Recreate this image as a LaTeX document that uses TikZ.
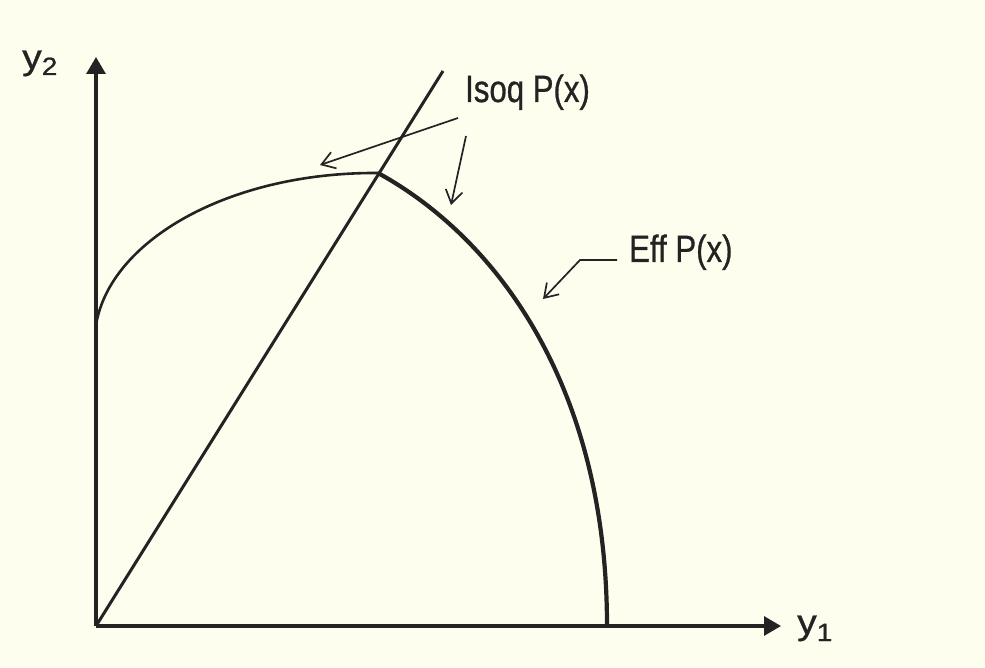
\documentclass[tikz,border=0pt]{standalone}
\usepackage{fontspec}
\setmainfont{Liberation Sans}
\newfontfamily\labfont[FakeStretch=0.82,FakeBold=0.8]{Liberation Sans}
\newfontfamily\axfont[FakeStretch=1.12,FakeBold=0.8]{Liberation Sans}
\usetikzlibrary{arrows.meta}
\definecolor{paper}{RGB}{254,254,239}
\definecolor{ink}{RGB}{35,35,35}
\begin{document}
\begin{tikzpicture}[x=1pt,y=-1pt,
  axisline/.style={line width=3.2pt,draw=ink,-{Triangle[length=17pt,width=19pt]}},
  rayline/.style={line width=3pt,draw=ink},
  isoline/.style={line width=2.6pt,draw=ink},
  effline/.style={line width=4.2pt,draw=ink},
  pointer/.style={line width=1.7pt,draw=ink,-{Straight Barb[length=13pt,width=17pt]}},
  lab/.style={inner sep=0pt,anchor=base west,text=ink,font=\labfont\fontsize{38}{40}\selectfont},
  axlab/.style={inner sep=0pt,anchor=base west,text=ink,font=\axfont\fontsize{35}{36}\selectfont}
]
\fill[paper] (0,0) rectangle (985,668);
\useasboundingbox (0,0) rectangle (985,668);

% coordinates
\coordinate (O) at (96,626);
\coordinate (Ytop) at (96,57);
\coordinate (Xend) at (781,626);
\coordinate (R) at (443,71);
\coordinate (A) at (96,325);
\coordinate (T) at (378,173);
\coordinate (B) at (607,626);

% axes
\draw[axisline] (O) -- (Ytop);
\draw[axisline] (O) -- (Xend);

% ray
\draw[rayline] (O) -- (R);

% isoquant (left, thin) and efficient part (right, thick)
\draw[isoline] (A) .. controls (110,240) and (230,172) .. (T);
\draw[effline] (T) .. controls (500,240) and (607,390) .. (B);

% labels
\node[lab] (iso) at (465,102) {Isoq P(x)};
\node[lab] (eff) at (629,262) {Eff P(x)};
\node[axlab] (y2) at (22,69) {y\raisebox{-6pt}{\fontsize{25}{26}\selectfont 2}};
\node[axlab] (y1) at (797,634) {y\raisebox{-7pt}{\fontsize{25}{26}\selectfont 1}};

% pointer arrows
\coordinate (p1s) at (458,118);
\coordinate (p1e) at (320,165);
\coordinate (p2s) at (466,136);
\coordinate (p2e) at (451,205);
\coordinate (p3s) at (617,260);
\coordinate (p3m) at (580,260);
\coordinate (p3e) at (543,299);
\draw[pointer] (p1s) -- (p1e);
\draw[pointer] (p2s) -- (p2e);
\draw[pointer] (p3s) -- (p3m) -- (p3e);
\end{tikzpicture}
\end{document}
